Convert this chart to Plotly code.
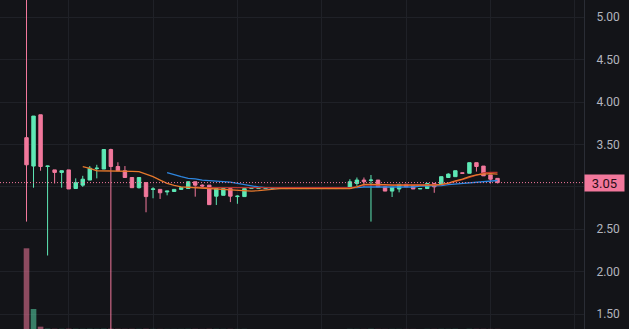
import plotly.graph_objects as go

# ---- data ----
idx = list(range(68))

opens = [3.58, 3.245, 3.85, 3.24, 3.20, 3.17, 3.20, 2.98, 3.02, 3.08, 3.215, 3.21, 3.44, 3.24, 3.19, 3.11,
         2.99, 3.05, 2.97, 2.97, 2.94, 2.945, 2.97, 2.98, 3.06, 3.02, 3.02, 2.89, 2.90, 2.98, 2.885, 2.885]
closes = [3.26, 3.835, 3.24, 3.245, 3.17, 3.19, 2.975, 3.05, 3.09, 3.22, 3.22, 3.44, 3.24, 3.19, 3.11, 2.99,
          3.11, 2.885, 2.975, 2.93, 2.95, 2.97, 2.99, 3.06, 3.02, 3.01, 2.79, 2.98, 2.98, 2.89, 2.89, 2.98]
highs = [6.80, 3.835, 3.85, 3.25, 3.20, 3.19, 3.20, 3.10, 3.13, 3.245, 3.26, 3.44, 3.45, 3.29, 3.245, 3.11,
         3.11, 3.05, 2.995, 2.97, 2.95, 2.97, 2.99, 3.06, 3.06, 3.03, 3.02, 2.98, 2.98, 2.98, 2.90, 2.98]
lows = [2.59, 2.99, 3.19, 2.19, 3.04, 2.99, 2.975, 2.98, 3.00, 3.08, 3.10, 3.21, 0.80, 3.19, 3.11, 2.99,
        2.98, 2.70, 2.865, 2.857, 2.90, 2.943, 2.97, 2.98, 2.884, 3.00, 2.79, 2.786, 2.90, 2.82, 2.80, 2.885]

# flat sessions (no trading)
opens += [2.98] * 14
closes += [2.98] * 14
highs += [2.98] * 14
lows += [2.98] * 14

opens += [2.98, 3.04, 3.08, 3.075, 3.08, 3.00, 2.95, 2.975, 3.03, 3.01, 2.975, 2.98, 3.04, 3.03, 3.11,
          3.12, 3.165, 3.16, 3.285, 3.245, 3.14, 3.10]
closes += [3.06, 3.08, 3.06, 3.08, 3.00, 2.95, 2.995, 3.03, 3.00, 2.975, 2.98, 3.04, 3.00, 3.12, 3.15,
           3.19, 3.16, 3.285, 3.24, 3.13, 3.09, 3.05]
highs += [3.09, 3.11, 3.11, 3.14, 3.08, 3.00, 2.995, 3.033, 3.033, 3.01, 2.98, 3.04, 3.04, 3.12, 3.16,
          3.19, 3.165, 3.285, 3.285, 3.245, 3.14, 3.10]
lows += [2.98, 3.01, 3.00, 2.59, 3.00, 2.95, 2.88, 2.935, 3.00, 2.975, 2.975, 2.98, 2.93, 3.03, 3.11,
         3.12, 3.16, 3.16, 3.18, 3.13, 3.04, 3.04]

volumes = [2420, 600, 70, 9, 6, 5, 8, 5, 4, 6, 4, 7, 9, 5, 4, 5, 4, 6, 3, 3, 2, 2, 3, 4, 4, 2, 5, 4, 3, 4, 2, 3,
           0, 0, 0, 0, 0, 0, 0, 0, 0, 0, 0, 0, 0, 0,
           4, 3, 2, 6, 3, 2, 3, 3, 2, 2, 1, 3, 3, 4, 3, 4, 1, 5, 4, 4, 3, 3]

ma_orange_x = list(range(8, 68))
ma_orange = [3.238, 3.219, 3.19, 3.19, 3.19, 3.19, 3.183, 3.183, 3.18, 3.15, 3.12, 3.08, 3.04, 3.018,
             3.00, 2.995, 2.99, 2.985, 2.98, 2.971, 2.963, 2.96, 2.955, 2.951, 2.95, 2.955, 2.963, 2.975,
             2.98, 2.98, 2.98, 2.98, 2.98, 2.98, 2.98, 2.98, 2.98, 2.98, 2.98,
             3.00, 3.03, 3.03, 3.03, 3.025, 3.02, 3.02, 3.02, 3.02, 3.02, 3.02, 3.02, 3.03, 3.045,
             3.07, 3.09, 3.12, 3.14, 3.15, 3.155, 3.15]

ma_red_x = list(range(24, 68))
ma_red = [3.00] + [2.99] * 22 + [3.00] + [3.02] * 11 + [3.025, 3.04, 3.06, 3.085, 3.11, 3.14, 3.165, 3.17, 3.17]

ma_blue_x = list(range(20, 68))
ma_blue = [3.167, 3.148, 3.12, 3.10, 3.095, 3.08, 3.075, 3.07, 3.063, 3.055, 3.04, 3.025, 3.01, 2.998,
           2.99, 2.985, 2.983, 2.983, 2.983, 2.983, 2.983, 2.983, 2.983, 2.983, 2.983, 2.983, 2.983,
           2.99, 2.998, 2.998, 2.998, 2.998, 2.998, 2.998, 2.998, 2.998, 3.01, 3.01, 3.01,
           3.015, 3.025, 3.032, 3.045, 3.05, 3.06, 3.065, 3.075, 3.075]

price_ticks = [1.5, 2.0, 2.5, 3.0, 3.5, 4.0, 4.5, 5.0]
last_price = closes[-1]

# ---- style ----
UP = "#5ee8b5"
DOWN = "#f2789c"
BG = "#131418"
GRID = "#1f2127"

vol_colors = ["rgba(94,232,181,0.5)" if c >= o else "rgba(242,120,156,0.55)" for o, c in zip(opens, closes)]

fig = go.Figure()
fig.add_trace(go.Bar(x=idx, y=volumes, marker=dict(color=vol_colors, line=dict(width=0)),
                     width=0.8, yaxis="y", hoverinfo="skip", showlegend=False))
fig.add_trace(go.Candlestick(x=idx, open=opens, high=highs, low=lows, close=closes, yaxis="y2",
                             increasing=dict(line=dict(color=UP, width=1), fillcolor=UP),
                             decreasing=dict(line=dict(color=DOWN, width=1), fillcolor=DOWN),
                             whiskerwidth=0, showlegend=False))
fig.add_trace(go.Scatter(x=ma_blue_x, y=ma_blue, mode="lines", yaxis="y2",
                         line=dict(color="#2e86de", width=1.3), showlegend=False))
fig.add_trace(go.Scatter(x=ma_red_x, y=ma_red, mode="lines", yaxis="y2",
                         line=dict(color="#b8342f", width=1.2), showlegend=False))
fig.add_trace(go.Scatter(x=ma_orange_x, y=ma_orange, mode="lines", yaxis="y2",
                         line=dict(color="#e5782c", width=1.3), showlegend=False))

fig.add_shape(type="line", xref="paper", x0=0, x1=1, yref="y2", y0=last_price, y1=last_price,
              line=dict(color=DOWN, width=1, dash="1px,2px"))

fig.add_annotation(x=1, xref="paper", xanchor="left", y=last_price, yref="y2", yanchor="middle",
                   text=f"{last_price:.2f}", showarrow=False, bgcolor=DOWN, width=39, height=16,
                   borderpad=0, font=dict(size=13, color="#2a0d16", family="Roboto"))

fig.update_layout(
    width=629, height=329, margin=dict(l=0, r=45, t=0, b=0),
    paper_bgcolor=BG, plot_bgcolor=BG,
    font=dict(family="Roboto", size=12, color="#b2b5be"),
    xaxis=dict(range=[-3.77, 79.3], tickmode="linear", tick0=6, dtick=12, showticklabels=False,
               showgrid=True, gridcolor=GRID, gridwidth=1, zeroline=False, rangeslider=dict(visible=False),
               fixedrange=True),
    yaxis=dict(range=[0, 9866], visible=False, showgrid=False, fixedrange=True),
    yaxis2=dict(overlaying="y", side="right", range=[1.323, 5.204], tickvals=price_ticks,
                ticktext=["" if t == 3.0 else f"{t:.2f}" for t in price_ticks],
                showgrid=True, gridcolor=GRID, gridwidth=1, zeroline=False, ticks="",
                showline=True, linecolor="#2a2d35", linewidth=1, ticklabelstandoff=9,
                tickfont=dict(size=12, color="#b2b5be"), fixedrange=True),
    hovermode=False,
)

fig.write_html("out.html")
